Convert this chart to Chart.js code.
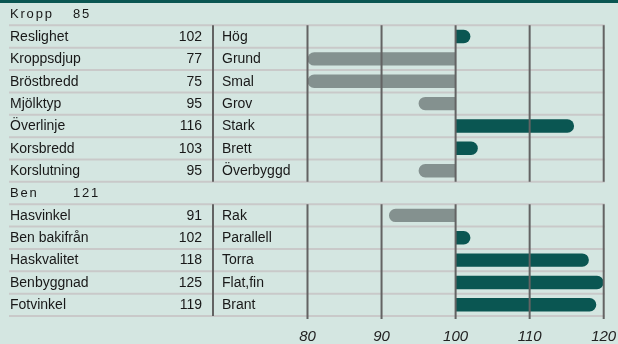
<!DOCTYPE html>
<html>
<head>
<meta charset="utf-8">
<script src="https://cdn.jsdelivr.net/npm/chart.js@4"></script>
<style>
  html, body { margin: 0; padding: 0; background: #d4e6e1; }
  canvas { display: block; }
</style>
</head>
<body>
<canvas id="traits" width="618" height="344"></canvas>
<script>
// sections of the profile, with their index
const sectionNames = ['Kropp', 'Ben'];
const sectionScores = [85, 121];
const sectionSizes = [7, 5];

// traits in drawing order (first 7 Kropp, last 5 Ben)
const traitNames = ['Reslighet', 'Kroppsdjup', 'Bröstbredd', 'Mjölktyp', 'Överlinje', 'Korsbredd', 'Korslutning',
  'Hasvinkel', 'Ben bakifrån', 'Haskvalitet', 'Benbyggnad', 'Fotvinkel'];
const traitValues = [102, 77, 75, 95, 116, 103, 95, 91, 102, 118, 125, 119];
const traitWords = ['Hög', 'Grund', 'Smal', 'Grov', 'Stark', 'Brett', 'Överbyggd',
  'Rak', 'Parallell', 'Torra', 'Flat,fin', 'Brant'];

const xTicks = [80, 90, 100, 110, 120];
const BASE = 100;

const BG = '#d4e6e1';
const DARK = '#0a5652';
const GRAY = '#84918f';
const FONT = "'Liberation Sans', Arial, sans-serif";

// one row per header + one per trait
const rows = [];
let t = 0;
sectionNames.forEach(function (name, s) {
  rows.push({ header: true, section: s });
  for (let k = 0; k < sectionSizes[s]; k++) {
    rows.push({ header: false, section: s, trait: t });
    t++;
  }
});

const X_MIN = xTicks[0];
const X_MAX = xTicks[xTicks.length - 1];
const labels = rows.map(r => r.header ? sectionNames[r.section] : traitNames[r.trait]);
// bars run from 100 to the value, kept inside the axis range
const barData = rows.map(r => r.header ? null :
  [BASE, Math.min(X_MAX, Math.max(X_MIN, traitValues[r.trait]))]);

function isUp(i) {
  const r = rows[i];
  return r && !r.header && traitValues[r.trait] >= BASE;
}

const tablePlugin = {
  id: 'table',
  beforeDraw(chart) {
    const c = chart.ctx;
    c.save();
    c.fillStyle = BG;
    c.fillRect(0, 0, chart.width, chart.height);
    c.fillStyle = DARK;
    c.fillRect(0, 0, chart.width, 3);
    c.restore();
  },
  beforeDatasetsDraw(chart) {
    // light row separators
    const c = chart.ctx, y = chart.scales.y;
    const step = (y.bottom - y.top) / rows.length;
    c.save();
    c.strokeStyle = '#c9c9c9';
    c.lineWidth = 2;
    for (let i = 1; i <= rows.length; i++) {
      const yy = y.top + i * step;
      c.beginPath();
      c.moveTo(9, yy);
      c.lineTo(chart.chartArea.right + 1, yy);
      c.stroke();
    }
    c.restore();
  },
  afterDatasetsDraw(chart) {
    const c = chart.ctx, y = chart.scales.y, x = chart.scales.x;
    const step = (y.bottom - y.top) / rows.length;
    c.save();

    // vertical rules, only over the trait rows of each section
    c.strokeStyle = '#636363';
    c.lineWidth = 2;
    let start = 0;
    sectionSizes.forEach(function (n, s) {
      const y0 = y.top + (start + 1) * step;
      const y1 = y.top + (start + 1 + n) * step;
      const last = s === sectionSizes.length - 1;
      c.beginPath();
      c.moveTo(213, y0);
      c.lineTo(213, y1);
      xTicks.forEach(function (v) {
        const px = x.getPixelForValue(v);
        c.moveTo(px, y0);
        c.lineTo(px, last ? y1 + 3 : y1);
      });
      c.stroke();
      start += n + 1;
    });

    // text columns
    c.fillStyle = '#181818';
    c.textBaseline = 'middle';
    rows.forEach(function (r, i) {
      const cy = y.top + (i + 0.5) * step + 0.5;
      if (r.header) {
        c.font = '13px ' + FONT;
        c.letterSpacing = '1.8px';
        c.textAlign = 'left';
        c.fillText(sectionNames[r.section], 10, cy);
        c.fillText(String(sectionScores[r.section]), 73, cy);
        c.letterSpacing = '0px';
      } else {
        c.font = '14px ' + FONT;
        c.textAlign = 'left';
        c.fillText(traitNames[r.trait], 10, cy);
        c.fillText(traitWords[r.trait], 222, cy);
        c.textAlign = 'right';
        c.fillText(String(traitValues[r.trait]), 202, cy);
      }
    });
    c.restore();
  }
};

new Chart(document.getElementById('traits'), {
  type: 'bar',
  data: {
    labels: labels,
    datasets: [{
      data: barData,
      backgroundColor: ctx => isUp(ctx.dataIndex) ? DARK : GRAY,
      borderSkipped: ctx => isUp(ctx.dataIndex) ? 'left' : 'right', // flat end on the 100 line
      borderRadius: 7,
      barPercentage: 0.6,
      categoryPercentage: 1
    }]
  },
  options: {
    indexAxis: 'y',
    responsive: false,
    animation: false,
    layout: { padding: { left: 307.5, right: 14.3, top: 3, bottom: 0 } },
    plugins: { legend: { display: false }, tooltip: { enabled: false } },
    scales: {
      x: {
        type: 'linear',
        min: X_MIN,
        max: X_MAX,
        afterBuildTicks: s => { s.ticks = xTicks.map(v => ({ value: v })); },
        // fixed axis band under the rows, no extra side padding for the end labels
        afterFit: s => { s.height = 28; s.paddingLeft = 0; s.paddingRight = 0; },
        grid: { display: false, drawTicks: false },
        border: { display: false },
        ticks: { padding: 12, color: '#222', font: { family: FONT, size: 15, style: 'italic' } }
      },
      y: { display: false }
    }
  },
  plugins: [tablePlugin]
});
</script>
</body>
</html>
